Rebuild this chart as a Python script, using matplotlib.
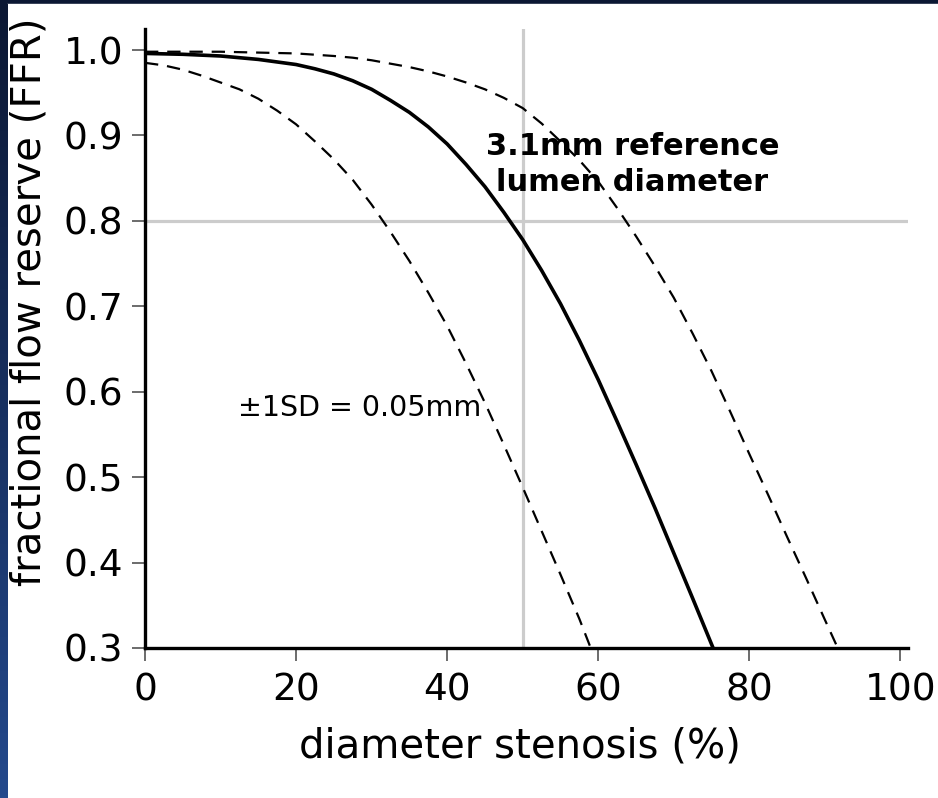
import matplotlib
matplotlib.use('Agg')
import matplotlib.pyplot as plt
import numpy as np

# values (diameter stenosis %, FFR)
ref_x = [0, 5, 10, 15, 20, 22.5, 25, 27.5, 30, 32.5, 35, 37.5, 40, 42.5, 45, 47.5,
         50, 52.5, 55, 57.5, 60, 62.5, 65, 67.5, 70, 72.5, 75.2]
ref_ffr = [0.996, 0.995, 0.993, 0.989, 0.983, 0.978, 0.972, 0.964, 0.954, 0.941,
           0.927, 0.910, 0.890, 0.866, 0.840, 0.810, 0.778, 0.742, 0.703, 0.660,
           0.614, 0.565, 0.515, 0.464, 0.411, 0.358, 0.30]

lo_x = [0, 2.5, 5, 7.5, 10, 12.5, 15, 17.5, 20, 22.5, 25, 27.5, 30, 32.5, 35, 37.5,
        40, 42.5, 45, 47.5, 50, 52.5, 55, 57.5, 59.0]
lo_ffr = [0.985, 0.982, 0.977, 0.970, 0.962, 0.954, 0.943, 0.929, 0.913, 0.893,
          0.872, 0.848, 0.819, 0.787, 0.753, 0.716, 0.677, 0.633, 0.587, 0.538,
          0.488, 0.437, 0.386, 0.334, 0.30]

hi_x = [0, 5, 10, 15, 20, 25, 27.5, 30, 32.5, 35, 37.5, 40, 42.5, 45, 47.5, 50, 52.5,
        55, 57.5, 60, 62.5, 65, 67.5, 70, 72.5, 75, 77.5, 80, 82.5, 85, 87.5, 90, 91.7]
hi_ffr = [0.998, 0.998, 0.998, 0.997, 0.996, 0.993, 0.991, 0.988, 0.984, 0.980,
          0.975, 0.969, 0.962, 0.954, 0.944, 0.932, 0.914, 0.893, 0.871, 0.846,
          0.815, 0.782, 0.747, 0.710, 0.668, 0.624, 0.576, 0.527, 0.479, 0.430,
          0.382, 0.333, 0.30]

xticks = [0, 20, 40, 60, 80, 100]
yticks = [0.3, 0.4, 0.5, 0.6, 0.7, 0.8, 0.9, 1.0]

W, H = 938, 798
fig = plt.figure(figsize=(W / 100, H / 100), dpi=100, facecolor='#0b1733')

# white panel + blue gradient strip on the left
fig.patches.append(plt.Rectangle((7 / W, 0), 1 - 7 / W, 1 - 4 / H,
                                 transform=fig.transFigure, color='white', zorder=-10))
gax = fig.add_axes([0, 0, 7 / W, 1 - 4 / H], zorder=-5)
grad = np.linspace(0, 1, 256).reshape(-1, 1)
gax.imshow(grad, aspect='auto', cmap=matplotlib.colors.LinearSegmentedColormap.from_list(
    'bg', ['#0b1733', '#24498c']), origin='upper')
gax.axis('off')

ax = fig.add_axes([145 / W, 150 / H, (908 - 145) / W, (648 - 29) / H], zorder=1)
ax.set_facecolor('none')

ax.axvline(50, color='#cccccc', lw=2.3, zorder=1)
ax.axhline(0.8, color='#cccccc', lw=2.3, zorder=1)

ax.plot(ref_x, ref_ffr, color='black', lw=2.6, zorder=3)
ax.plot(lo_x, lo_ffr, color='black', lw=1.6, dashes=(6, 4), zorder=3)
ax.plot(hi_x, hi_ffr, color='black', lw=1.6, dashes=(6, 4), zorder=3)

ax.text(64.5, 0.866, '3.1mm reference\nlumen diameter', ha='center', va='center',
        fontsize=22, fontweight='bold', linespacing=1.27)
ax.text(12.3, 0.581, '\u00b11SD = 0.05mm', ha='left', va='center', fontsize=20.5)

ax.set_xlim(0, 101)
ax.set_ylim(0.3, 1.0246)
ax.set_xticks(xticks)
ax.set_yticks(yticks)
ax.set_yticklabels(['%.1f' % v for v in yticks])
ax.tick_params(labelsize=27, length=9.5, width=1.1, color='#444444', pad=6)
ax.tick_params(axis='x', pad=8)

for s in ['top', 'right']:
    ax.spines[s].set_visible(False)
for s in ['left', 'bottom']:
    ax.spines[s].set_linewidth(2.4)

ax.set_xlabel('diameter stenosis (%)', fontsize=29)
ax.set_ylabel('fractional flow reserve (FFR)', fontsize=29)
ax.xaxis.set_label_coords(0.491, -0.127)
ax.yaxis.set_label_coords(-0.125, 0.56)

fig.savefig('out.png', dpi=100, facecolor=fig.get_facecolor())
